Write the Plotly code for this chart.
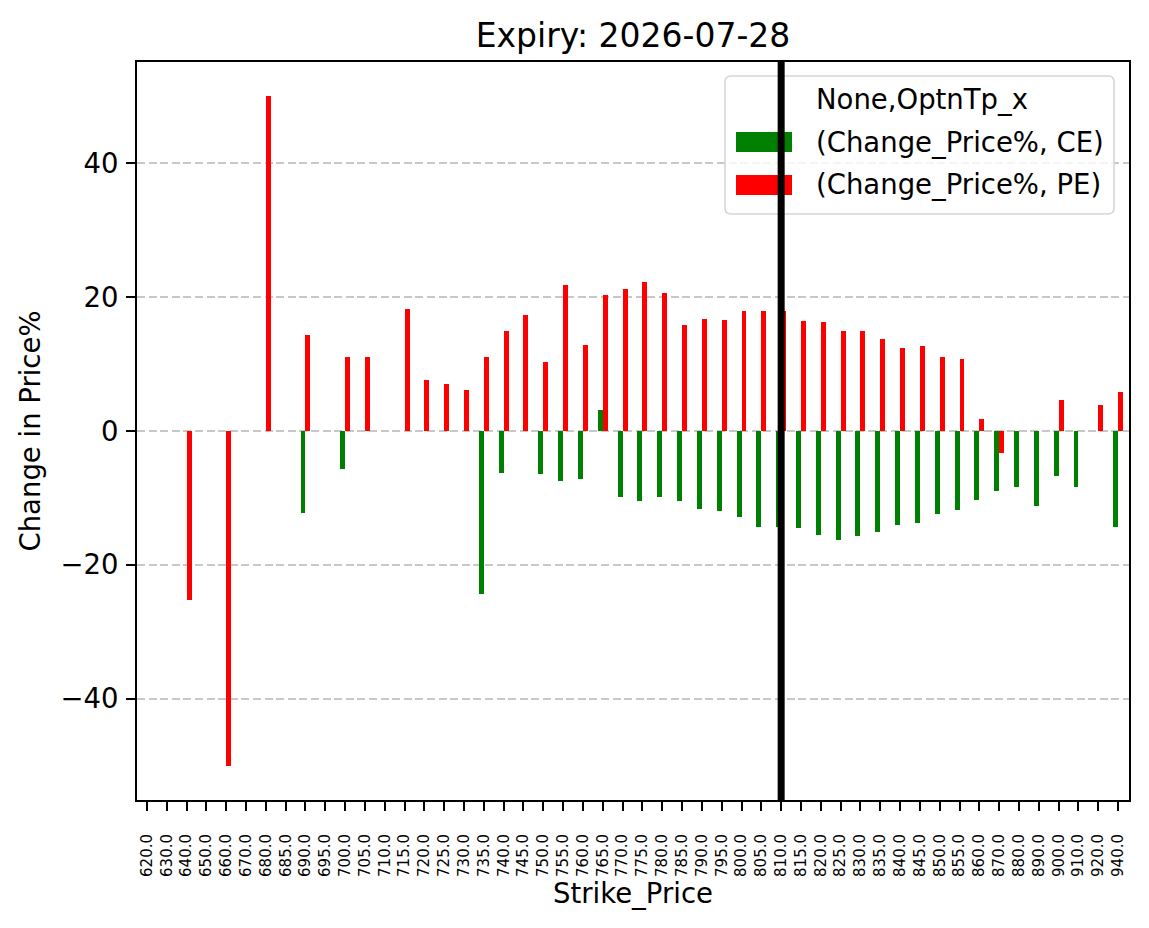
import plotly.graph_objects as go

strikes = [620, 630, 640, 650, 660, 670, 680, 685, 690, 695, 700, 705, 710, 715, 720,
           725, 730, 735, 740, 745, 750, 755, 760, 765, 770, 775, 780, 785, 790, 795,
           800, 805, 810, 815, 820, 825, 830, 835, 840, 845, 850, 855, 860, 870, 880,
           890, 900, 910, 920, 940]
tick_labels = [f"{s:.1f}" for s in strikes]

ce_change = [None, None, None, None, None, None, None, None, -12.2, None,
             -5.7, None, None, None, None, None, None, -24.3, -6.3, None,
             -6.4, -7.5, -7.2, 3.1, -9.9, -10.5, -9.9, -10.5, -11.7, -12.0,
             -12.9, -14.3, -14.3, -14.5, -15.5, -16.3, -15.7, -15.1, -14.0, -13.7,
             -12.4, -11.8, -10.3, -9.0, -8.4, -11.2, -6.7, -8.4, None, -14.3]

pe_change = [None, None, -25.2, None, -50.0, None, 50.0, None, 14.3, None,
             11.0, 11.0, None, 18.2, 7.6, 7.1, 6.2, 11.0, 14.9, 17.3,
             10.3, 21.8, 12.8, 20.4, 21.2, 22.2, 20.7, 15.8, 16.7, 16.6,
             17.9, 17.9, 17.9, 16.4, 16.3, 14.9, 15.0, 13.7, 12.4, 12.7,
             11.0, 10.7, 1.75, -3.3, None, None, 4.6, None, 3.9, 5.8]

current_strike = 810.0
title_text = "Expiry: 2026-07-28"
legend_title = "None,OptnTp_x"
series_names = ["(Change_Price%, CE)", "(Change_Price%, PE)"]
series_colors = ["#008000", "#ff0000"]

FONT = "DejaVu Sans"
W, H = 1149, 928
L, R, T, B = 137, 1129, 62, 800
PW, PH = R - L, B - T


def pxx(x):
    return (x - L) / PW


def pxy(y):
    return (B - y) / PH


idx = list(range(len(strikes)))

fig = go.Figure()
fig.add_trace(go.Bar(x=idx, y=ce_change, width=0.25, offset=-0.25,
                     marker=dict(color=series_colors[0], line=dict(width=0)),
                     name=series_names[0], showlegend=False))
fig.add_trace(go.Bar(x=idx, y=pe_change, width=0.25, offset=0,
                     marker=dict(color=series_colors[1], line=dict(width=0)),
                     name=series_names[1], showlegend=False))

# manual legend (so the vertical line can be drawn over it, as in the reference)
bx0, bx1, by0, by1 = 725, 1114, 76, 214
r = 6
path = (f"M {pxx(bx0 + r)},{pxy(by0)} L {pxx(bx1 - r)},{pxy(by0)} "
        f"Q {pxx(bx1)},{pxy(by0)} {pxx(bx1)},{pxy(by0 + r)} "
        f"L {pxx(bx1)},{pxy(by1 - r)} Q {pxx(bx1)},{pxy(by1)} {pxx(bx1 - r)},{pxy(by1)} "
        f"L {pxx(bx0 + r)},{pxy(by1)} Q {pxx(bx0)},{pxy(by1)} {pxx(bx0)},{pxy(by1 - r)} "
        f"L {pxx(bx0)},{pxy(by0 + r)} Q {pxx(bx0)},{pxy(by0)} {pxx(bx0 + r)},{pxy(by0)} Z")
shapes = [dict(type="path", xref="paper", yref="paper", path=path,
               fillcolor="rgba(255,255,255,0.8)", line=dict(color="#d6d6d6", width=1.6),
               layer="above")]
patch_rows = [(132, 152), (175, 195)]
for (y0, y1), col in zip(patch_rows, series_colors):
    shapes.append(dict(type="rect", xref="paper", yref="paper",
                       x0=pxx(736), x1=pxx(792), y0=pxy(y1), y1=pxy(y0),
                       fillcolor=col, line=dict(width=0), layer="above"))
shapes.append(dict(type="line", xref="x", yref="paper",
                   x0=strikes.index(current_strike), x1=strikes.index(current_strike),
                   y0=0, y1=1, line=dict(color="black", width=7), layer="above"))

annotations = [
    dict(text=legend_title, x=pxx(814), y=pxy(100), xref="paper", yref="paper",
         xanchor="left", yanchor="middle", showarrow=False,
         font=dict(family=FONT, size=27.5, color="black")),
]
for yc, name in zip([142, 185], series_names):
    annotations.append(dict(text=name, x=pxx(814), y=pxy(yc), xref="paper", yref="paper",
                            xanchor="left", yanchor="middle", showarrow=False,
                            font=dict(family=FONT, size=27.5, color="black")))

ytick_vals = [-40, -20, 0, 20, 40]
ytick_text = ["\u221240", "\u221220", "0", "20", "40"]

fig.update_layout(
    width=W, height=H,
    margin=dict(l=L, r=W - R, t=T, b=H - B, pad=0),
    paper_bgcolor="white", plot_bgcolor="white",
    font=dict(family=FONT, color="black"),
    title=dict(text=title_text, x=0.5, xref="paper", xanchor="center",
               y=1 - 35 / H, yref="container", yanchor="middle",
               font=dict(family=FONT, size=33, color="black")),
    bargap=0,
    shapes=shapes,
    annotations=annotations,
    xaxis=dict(range=[-0.5, 49.55], tickmode="array", tickvals=idx, ticktext=tick_labels,
               tickangle=-90, tickfont=dict(family=FONT, size=15, color="black"),
               ticks="outside", ticklen=9, tickwidth=2, tickcolor="black",
               showline=True, linewidth=2, linecolor="black", mirror=True,
               showgrid=False, zeroline=False, ticklabelstandoff=17,
               title=dict(text="Strike_Price", standoff=8,
                          font=dict(family=FONT, size=27.5, color="black"))),
    yaxis=dict(range=[-55.15, 55.15], tickmode="array", tickvals=ytick_vals, ticktext=ytick_text,
               tickfont=dict(family=FONT, size=27.5, color="black"),
               ticks="outside", ticklen=9, tickwidth=2, tickcolor="black",
               showline=True, linewidth=2, linecolor="black", mirror=True,
               showgrid=True, gridcolor="#c8c8c8", gridwidth=2, griddash="8px,3.6px",
               zeroline=False, ticklabelstandoff=2,
               title=dict(text="Change in Price%", standoff=12,
                          font=dict(family=FONT, size=27.5, color="black"))),
)

fig.write_html("out.html")
